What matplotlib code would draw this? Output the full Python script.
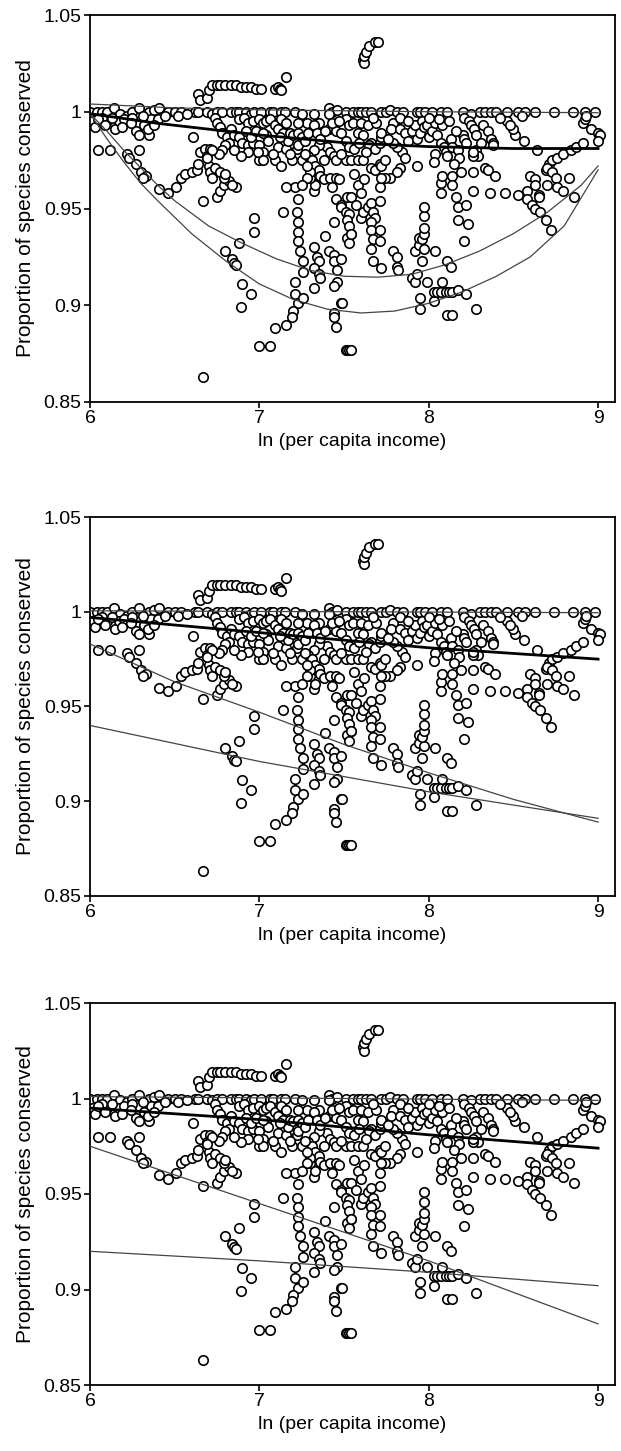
import numpy as np
import matplotlib
matplotlib.use('Agg')
import matplotlib.pyplot as plt

plt.rcParams['font.family'] = ['Liberation Sans', 'DejaVu Sans']

# ---- scatter data (same countries in every panel) ----
top_row = [(6.0, 1.0), (6.04, 1.0), (6.07, 1.0), (6.1, 1.0), (6.14, 1.002), (6.18, 0.999),
           (6.22, 0.998), (6.25, 1.0), (6.29, 1.002), (6.35, 1.0), (6.38, 1.001), (6.41, 1.002),
           (6.46, 1.0), (6.5, 1.0), (6.54, 1.0), (6.62, 1.0), (6.64, 1.0), (6.69, 1.0),
           (6.72, 0.999), (6.75, 1.0), (6.78, 1.0), (6.83, 1.0), (6.86, 1.0), (6.88, 1.0),
           (6.92, 1.0), (6.95, 0.999), (6.97, 1.0), (7.01, 1.0), (7.06, 1.0), (7.08, 1.0),
           (7.13, 1.0), (7.15, 1.0), (7.21, 1.0), (7.25, 0.999), (7.32, 0.999), (7.41, 1.002),
           (7.43, 1.0), (7.46, 1.001), (7.51, 1.0), (7.55, 1.0), (7.58, 1.0), (7.6, 1.0),
           (7.63, 1.0), (7.66, 1.0), (7.72, 1.0), (7.75, 1.0), (7.77, 1.001), (7.81, 1.0),
           (7.85, 1.0), (7.93, 1.0), (7.95, 1.0), (7.98, 1.0), (8.02, 1.0), (8.07, 1.0),
           (8.11, 1.0), (8.2, 1.0), (8.25, 0.999), (8.3, 1.0), (8.33, 1.0), (8.37, 1.0),
           (8.4, 1.0), (8.46, 1.0), (8.53, 1.0), (8.57, 1.0), (8.63, 1.0), (8.74, 1.0),
           (8.85, 1.0), (8.92, 1.0), (8.98, 1.0)]

upper_arc = [(6.64, 1.009), (6.65, 1.006), (6.69, 1.007), (6.70, 1.011), (6.72, 1.014),
             (6.75, 1.014), (6.77, 1.014), (6.80, 1.014), (6.83, 1.014), (6.86, 1.014),
             (6.89, 1.013), (6.92, 1.013), (6.95, 1.013), (6.98, 1.012), (7.01, 1.012),
             (7.09, 1.012), (7.11, 1.013), (7.12, 1.012), (7.13, 1.011), (7.16, 1.018)]

high_cluster = [(7.61, 1.027), (7.615, 1.025), (7.62, 1.029), (7.63, 1.031),
                (7.65, 1.034), (7.68, 1.036), (7.70, 1.036)]

left_band = [(6.03, 0.992), (6.05, 0.980), (6.12, 0.980), (6.1, 0.995), (6.15, 0.991),
             (6.17, 0.995), (6.22, 0.978), (6.23, 0.976), (6.27, 0.973), (6.29, 0.980),
             (6.27, 0.990), (6.29, 0.988), (6.32, 0.993), (6.35, 0.988), (6.30, 0.969),
             (6.33, 0.967), (6.31, 0.966), (6.36, 0.996), (6.40, 0.996), (6.41, 0.960),
             (6.46, 0.958), (6.07, 0.997), (6.13, 0.997), (6.20, 0.996), (6.25, 0.997),
             (6.31, 0.998), (6.44, 0.998), (6.52, 0.998), (6.57, 0.999)]

arc_667 = [(6.51, 0.961), (6.54, 0.966), (6.56, 0.968), (6.60, 0.969), (6.63, 0.970),
           (6.61, 0.987), (6.64, 0.973), (6.65, 0.979), (6.68, 0.981), (6.69, 0.977),
           (6.70, 0.972), (6.71, 0.969), (6.72, 0.966), (6.75, 0.956), (6.77, 0.959),
           (6.79, 0.962), (6.82, 0.964), (6.74, 0.971), (6.77, 0.969), (6.79, 0.966),
           (6.86, 0.961), (6.67, 0.954), (6.71, 0.981), (6.80, 0.968), (6.84, 0.962)]

band_668 = [(6.74, 0.997), (6.75, 0.994), (6.77, 0.992), (6.78, 0.989), (6.81, 0.987),
            (6.82, 0.984), (6.80, 0.983), (6.78, 0.980), (6.76, 0.978), (6.72, 0.980),
            (6.69, 0.976), (6.83, 0.991), (6.85, 0.988), (6.88, 0.987), (6.90, 0.984),
            (6.93, 0.983), (6.96, 0.984), (7.0, 0.983), (7.02, 0.979), (7.0, 0.975),
            (7.02, 0.975), (7.09, 0.975), (7.13, 0.972), (7.19, 0.975), (7.25, 0.975),
            (7.11, 0.982), (7.16, 0.981), (7.17, 0.985), (7.22, 0.981), (7.23, 0.983),
            (6.93, 0.979), (6.89, 0.977), (6.85, 0.980)]

band_7 = [(6.88, 0.996), (6.91, 0.997), (6.93, 0.994), (6.96, 0.995), (7.0, 0.996),
          (7.02, 0.994), (7.04, 0.995), (7.06, 0.996), (7.09, 0.993), (7.11, 0.991),
          (7.13, 0.996), (7.16, 0.994), (7.14, 0.989), (7.18, 0.989), (7.20, 0.988),
          (7.23, 0.989), (7.25, 0.987), (7.27, 0.985), (7.29, 0.989), (7.28, 0.994),
          (7.23, 0.994)]

band_75 = [(7.41, 0.999), (7.41, 0.991), (7.45, 0.990), (7.48, 0.989), (7.51, 0.996),
           (7.53, 0.993), (7.55, 0.994), (7.58, 0.989), (7.60, 0.994), (7.61, 0.988),
           (7.64, 0.993), (7.66, 0.984), (7.65, 0.983), (7.68, 0.981), (7.71, 0.984),
           (7.72, 0.987), (7.72, 0.989), (7.69, 0.994), (7.67, 0.997), (7.51, 0.985),
           (7.53, 0.982), (7.56, 0.981), (7.59, 0.984), (7.51, 0.975), (7.54, 0.975),
           (7.58, 0.975), (7.61, 0.975), (7.40, 0.982), (7.42, 0.979), (7.44, 0.977),
           (7.45, 0.975), (7.35, 0.983), (7.32, 0.980), (7.29, 0.977), (7.31, 0.975),
           (7.33, 0.972), (7.35, 0.970), (7.36, 0.967), (7.38, 0.965), (7.66, 0.971),
           (7.68, 0.970), (7.71, 0.973), (7.72, 0.972), (7.48, 0.978), (7.35, 0.994),
           (7.32, 0.993), (7.34, 0.989), (7.36, 0.986)]

band_8 = [(7.79, 0.994), (7.78, 0.991), (7.83, 0.991), (7.86, 0.989), (7.88, 0.985),
          (7.90, 0.990), (7.92, 0.993), (7.93, 0.986), (7.95, 0.989), (7.96, 0.995),
          (7.97, 0.992), (7.99, 0.993), (8.0, 0.987), (8.02, 0.990), (8.04, 0.994),
          (8.05, 0.988), (8.07, 0.984), (8.08, 0.993), (8.09, 0.982), (8.10, 0.979),
          (8.11, 0.977), (8.13, 0.986), (8.14, 0.982), (8.04, 0.978), (8.03, 0.974),
          (7.84, 0.979), (7.86, 0.976), (7.83, 0.971), (7.81, 0.969), (7.77, 0.966),
          (7.74, 0.966), (7.93, 0.972), (7.81, 0.982), (7.79, 0.984)]

band_83 = [(8.21, 0.997), (8.24, 0.995), (8.25, 0.993), (8.27, 0.991), (8.28, 0.988),
           (8.32, 0.993), (8.35, 0.990), (8.37, 0.986), (8.38, 0.984), (8.38, 0.983),
           (8.20, 0.988), (8.21, 0.986), (8.22, 0.984), (8.28, 0.980), (8.29, 0.977),
           (8.33, 0.971), (8.35, 0.970), (8.39, 0.967), (8.26, 0.977), (8.26, 0.979),
           (8.17, 0.980), (8.18, 0.976)]

right_side = [(8.36, 0.958), (8.45, 0.958), (8.53, 0.957), (8.58, 0.959), (8.60, 0.967),
              (8.63, 0.965), (8.63, 0.962), (8.65, 0.957), (8.58, 0.955), (8.61, 0.952),
              (8.63, 0.950), (8.66, 0.948), (8.69, 0.944), (8.72, 0.939), (8.65, 0.956),
              (8.69, 0.970), (8.71, 0.973), (8.73, 0.975), (8.76, 0.976), (8.79, 0.978),
              (8.84, 0.980), (8.87, 0.982), (8.91, 0.984), (8.70, 0.971), (8.73, 0.969),
              (8.75, 0.966), (8.76, 0.961), (8.70, 0.962), (8.79, 0.959), (8.86, 0.956),
              (8.83, 0.966), (8.64, 0.980), (8.56, 0.985), (8.51, 0.988), (8.50, 0.991),
              (8.46, 0.995), (8.48, 0.993), (8.91, 0.994), (8.92, 0.996), (8.93, 0.998),
              (8.96, 0.991), (9.0, 0.989), (9.01, 0.988), (9.0, 0.985)]

chain_72 = [(7.21, 0.961), (7.23, 0.955), (7.22, 0.948), (7.23, 0.943), (7.23, 0.938),
            (7.23, 0.933), (7.24, 0.928), (7.26, 0.923), (7.26, 0.917), (7.21, 0.912),
            (7.21, 0.906), (7.23, 0.901), (7.20, 0.897), (7.19, 0.894), (7.26, 0.904),
            (7.16, 0.890), (7.09, 0.888), (7.00, 0.879), (7.06, 0.879), (6.67, 0.863)]

chain_74 = [(7.32, 0.959), (7.33, 0.962), (7.30, 0.966), (7.30, 0.969), (7.28, 0.972),
            (7.32, 0.930), (7.34, 0.925), (7.35, 0.923), (7.32, 0.919), (7.35, 0.916),
            (7.36, 0.914), (7.32, 0.909), (7.39, 0.936), (7.41, 0.928), (7.44, 0.926),
            (7.44, 0.923), (7.46, 0.918), (7.46, 0.912), (7.44, 0.910), (7.48, 0.924),
            (7.44, 0.896), (7.44, 0.894), (7.48, 0.901), (7.49, 0.901), (7.45, 0.889),
            (7.51, 0.877), (7.52, 0.877), (7.53, 0.877), (7.54, 0.877)]

chain_75 = [(7.42, 0.966), (7.45, 0.966), (7.47, 0.965), (7.43, 0.961), (7.45, 0.955),
            (7.48, 0.952), (7.48, 0.951), (7.52, 0.956), (7.54, 0.956), (7.51, 0.948),
            (7.53, 0.947), (7.52, 0.944), (7.53, 0.941), (7.54, 0.937), (7.52, 0.935),
            (7.53, 0.932), (7.54, 0.937), (7.44, 0.943)]

chain_77 = [(7.60, 0.945), (7.61, 0.948), (7.64, 0.951), (7.66, 0.953), (7.67, 0.948),
            (7.68, 0.945), (7.66, 0.943), (7.66, 0.939), (7.67, 0.934), (7.71, 0.939),
            (7.71, 0.933), (7.66, 0.929), (7.67, 0.923), (7.72, 0.919), (7.71, 0.954),
            (7.71, 0.961), (7.72, 0.966)]

chain_79 = [(7.79, 0.928), (7.81, 0.925), (7.81, 0.920), (7.82, 0.918), (7.90, 0.914),
            (7.92, 0.912), (7.93, 0.916), (7.92, 0.928), (7.94, 0.931), (7.94, 0.935),
            (7.95, 0.904), (7.95, 0.898), (7.96, 0.923), (7.97, 0.929), (7.96, 0.934),
            (7.97, 0.937), (7.97, 0.940), (7.97, 0.946), (7.97, 0.951), (8.03, 0.902),
            (8.04, 0.928), (7.99, 0.912)]

row_907 = [(8.03, 0.907), (8.05, 0.907), (8.07, 0.907), (8.10, 0.907), (8.12, 0.907),
           (8.14, 0.907), (8.17, 0.908), (8.22, 0.906), (8.08, 0.912), (8.11, 0.895),
           (8.14, 0.895), (8.28, 0.898), (8.11, 0.923), (8.13, 0.920)]

chain_82 = [(8.07, 0.963), (8.07, 0.958), (8.08, 0.967), (8.14, 0.967), (8.14, 0.962),
            (8.16, 0.956), (8.17, 0.951), (8.17, 0.944), (8.22, 0.952), (8.23, 0.942),
            (8.21, 0.933), (8.26, 0.959), (8.26, 0.969)]

mid_left = [(7.16, 0.961), (7.14, 0.948), (6.97, 0.945), (6.97, 0.938), (6.88, 0.932),
            (6.80, 0.928), (6.84, 0.924), (6.85, 0.922), (6.86, 0.921), (6.90, 0.911),
            (6.95, 0.906), (6.89, 0.899)]

# extra points filling the dense 0.96-1.0 band
dense_fill = [(6.05, 0.996), (6.09, 0.993), (6.19, 0.992), (6.24, 0.994), (6.34, 0.991),
              (6.38, 0.993), (6.92, 0.990), (6.95, 0.987), (6.98, 0.990), (7.04, 0.988),
              (7.05, 0.985), (7.08, 0.978), (7.12, 0.987), (7.18, 0.978), (7.27, 0.978),
              (7.28, 0.966), (7.25, 0.962), (7.38, 0.975), (7.39, 0.990), (7.43, 0.994),
              (7.47, 0.995), (7.56, 0.968), (7.58, 0.962), (7.60, 0.958), (7.57, 0.952),
              (7.62, 0.965), (7.63, 0.979), (7.74, 0.975), (7.76, 0.986), (7.83, 0.997),
              (7.88, 0.995), (8.0, 0.997), (8.06, 0.996), (8.12, 0.995), (8.16, 0.990),
              (8.15, 0.973), (8.19, 0.969), (8.31, 0.984), (8.42, 0.997), (8.55, 0.998),
              (7.02, 0.989), (6.99, 0.979)]

clusters = [top_row, upper_arc, high_cluster, left_band, arc_667, band_668, band_7,
            band_75, band_8, band_83, right_side, chain_72, chain_74, chain_75,
            chain_77, chain_79, row_907, chain_82, mid_left, dense_fill]
pts = np.array([p for c in clusters for p in c])
income, conserved = pts[:, 0], pts[:, 1]

# ---- fitted lines ----
p1_thick_x = [6.0, 6.4, 7.0, 7.5, 8.0, 8.5, 9.0]
p1_thick_y = [0.999, 0.994, 0.988, 0.984, 0.982, 0.981, 0.981]
p1_top_x = [6.0, 6.5, 7.0, 8.0, 9.0]
p1_top_y = [1.004, 1.002, 1.001, 1.0, 0.9995]
p1_u1_x = [6.0, 6.1, 6.2, 6.3, 6.4, 6.5, 6.7, 6.9, 7.1, 7.3, 7.5, 7.7, 7.9, 8.1, 8.3, 8.5, 8.7, 8.9, 9.0]
p1_u1_y = [0.999, 0.990, 0.980, 0.971, 0.962, 0.954, 0.941, 0.932, 0.924, 0.918, 0.915, 0.9145,
           0.916, 0.921, 0.928, 0.937, 0.948, 0.962, 0.972]
p1_u2_x = [6.0, 6.1, 6.2, 6.3, 6.4, 6.6, 6.8, 7.0, 7.2, 7.4, 7.6, 7.8, 8.0, 8.2, 8.4, 8.6, 8.8, 9.0]
p1_u2_y = [0.999, 0.986, 0.974, 0.963, 0.954, 0.937, 0.923, 0.911, 0.903, 0.898, 0.896, 0.897,
           0.901, 0.907, 0.915, 0.925, 0.941, 0.970]

p2_thick_x = [6.0, 7.0, 8.0, 9.0]
p2_thick_y = [0.997, 0.989, 0.981, 0.975]
p2_top_x = [6.0, 9.0]
p2_top_y = [1.0005, 0.9995]
p2_steep_x = [6.0, 6.5, 7.0, 7.5, 8.0, 8.5, 9.0]
p2_steep_y = [0.983, 0.963, 0.947, 0.930, 0.915, 0.901, 0.889]
p2_flat_x = [6.0, 7.0, 8.0, 9.0]
p2_flat_y = [0.940, 0.921, 0.905, 0.891]

p3_thick_x = [6.0, 7.0, 8.0, 9.0]
p3_thick_y = [0.995, 0.989, 0.981, 0.974]
p3_top_x = [6.0, 9.0]
p3_top_y = [1.001, 0.999]
p3_steep_x = [6.0, 7.0, 8.0, 9.0]
p3_steep_y = [0.975, 0.945, 0.915, 0.882]
p3_flat_x = [6.0, 7.0, 8.0, 9.0]
p3_flat_y = [0.920, 0.915, 0.909, 0.902]

panels = [
    {'thick': (p1_thick_x, p1_thick_y),
     'thin': [(p1_top_x, p1_top_y), (p1_u1_x, p1_u1_y), (p1_u2_x, p1_u2_y)]},
    {'thick': (p2_thick_x, p2_thick_y),
     'thin': [(p2_top_x, p2_top_y), (p2_steep_x, p2_steep_y), (p2_flat_x, p2_flat_y)]},
    {'thick': (p3_thick_x, p3_thick_y),
     'thin': [(p3_top_x, p3_top_y), (p3_steep_x, p3_steep_y), (p3_flat_x, p3_flat_y)]},
]

yticks = [0.85, 0.9, 0.95, 1.0, 1.05]
ytick_labels = ['0.85', '0.9', '0.95', '1', '1.05']
xticks = [6, 7, 8, 9]

fig = plt.figure(figsize=(6.21, 14.51), dpi=100)
# axes boxes measured in pixels from the reference (left, top, right, bottom)
boxes = [(90, 15, 615, 402), (90, 517, 615, 896), (90, 1003, 615, 1385)]
W, H = 621, 1451

for box, pan in zip(boxes, panels):
    l, t, r, b = box
    ax = fig.add_axes([l / W, 1 - b / H, (r - l) / W, (b - t) / H])
    ax.plot(income, conserved, 'o', ms=6.8, mfc='white', mec='black', mew=1.2, zorder=2)
    for lx, ly in pan['thin']:
        ax.plot(lx, ly, '-', color='#444444', lw=0.9, zorder=3)
    tx, ty = pan['thick']
    ax.plot(tx, ty, '-', color='black', lw=2.0, zorder=4)

    ax.set_xlim(6, 9.1)
    ax.set_ylim(0.85, 1.05)
    ax.set_xticks(xticks)
    ax.set_xticklabels([str(v) for v in xticks])
    ax.set_yticks(yticks)
    ax.set_yticklabels(ytick_labels)
    ax.tick_params(direction='out', length=4, width=1.2, labelsize=14, pad=2)
    for s in ax.spines.values():
        s.set_linewidth(1.3)
    ax.set_xlabel('ln (per capita income)', fontsize=14, labelpad=4)
    ax.set_ylabel('Proportion of species conserved', fontsize=15, labelpad=6)

fig.savefig('out.png', dpi=100)
